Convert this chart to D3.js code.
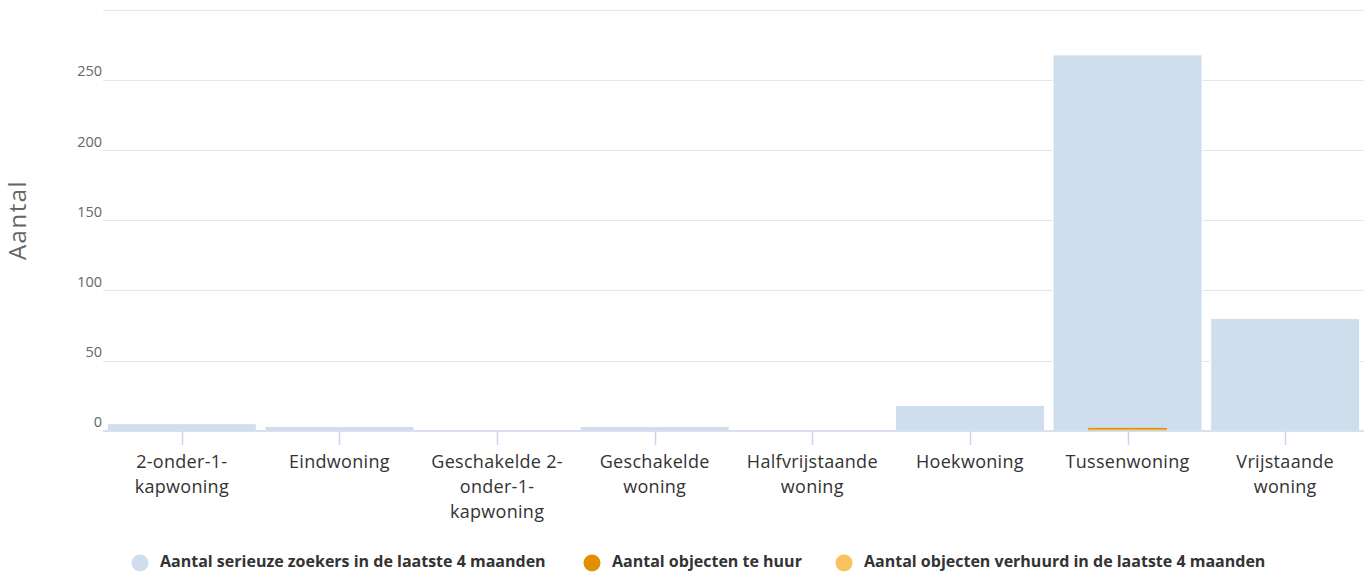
<!DOCTYPE html>
<html><head><meta charset="utf-8">
<script src="https://cdn.jsdelivr.net/npm/d3@7/dist/d3.min.js"></script>
<style>
html,body{margin:0;padding:0;background:#fff;}
svg{display:block;font-family:"Open Sans",Lato,sans-serif;}
</style></head>
<body><svg id="c" width="1372" height="576"></svg>
<script>
const categories = ["2-onder-1-kapwoning","Eindwoning","Geschakelde 2-onder-1-kapwoning","Geschakelde woning","Halfvrijstaande woning","Hoekwoning","Tussenwoning","Vrijstaande woning"];
const categoryLabelLines = [["2-onder-1-","kapwoning"],["Eindwoning"],["Geschakelde 2-","onder-1-","kapwoning"],["Geschakelde","woning"],["Halfvrijstaande","woning"],["Hoekwoning"],["Tussenwoning"],["Vrijstaande","woning"]];
const zoekers = [5, 3, 0, 3, 0, 18, 268, 80];
const teHuur = [0, 0, 0, 0, 0, 0, 2, 0];
const verhuurd = [0, 0, 0, 0, 0, 0, 1, 0];
const yTicks = [0, 50, 100, 150, 200, 250, 300];
const seriesNames = ["Aantal serieuze zoekers in de laatste 4 maanden","Aantal objecten te huur","Aantal objecten verhuurd in de laatste 4 maanden"];
const colors = ["#cfdeed","#e09000","#f8c25f"];

(function(){
const svg = d3.select("#c");
const pLeft = 103, pRight = 1364, pTop = 10, pBottom = 430.7;
const x = d3.scaleBand().domain(categories).range([pLeft, pRight]).paddingInner(0).paddingOuter(0);
const y = d3.scaleLinear().domain([0, 300]).range([pBottom, pTop]);

// gridlines
svg.append("g").selectAll("line").data(yTicks.filter(d=>d>0)).join("line")
  .attr("x1", pLeft).attr("x2", pRight)
  .attr("y1", d=>Math.round(y(d))+0.5).attr("y2", d=>Math.round(y(d))+0.5)
  .attr("stroke", "#e6e6e6").attr("stroke-width", 1);

// y labels
svg.append("g").selectAll("text").data(yTicks.filter(d=>d<300)).join("text")
  .attr("x", pLeft - 1).attr("y", d=>y(d) - 7.5)
  .attr("text-anchor","end").attr("dominant-baseline","middle")
  .attr("fill","#666").attr("font-size", 14.5).text(d=>d);

// y title
svg.append("text").attr("transform","translate(20,220) rotate(-90)")
  .attr("text-anchor","middle").attr("dominant-baseline","middle")
  .attr("fill","#666").attr("font-size", 24).attr("letter-spacing", 1.5).text("Aantal");

// bars
const bw = x.bandwidth();
function drawSeries(vals, color, pad, stroke){
  svg.append("g").selectAll("rect").data(vals).join("rect")
    .attr("x", (d,i)=>x(categories[i]) + pad)
    .attr("width", bw - 2*pad)
    .attr("y", d=>y(d))
    .attr("height", d=>Math.max(0, pBottom - y(d)))
    .attr("fill", color)
    .attr("stroke", stroke).attr("stroke-width", 1);
}
drawSeries(zoekers, colors[0], 4.3, "#fff");
drawSeries(teHuur, colors[1], 39.5, "none");
drawSeries(verhuurd, colors[2], 39.5, "none");

// x axis
svg.append("line").attr("x1", pLeft).attr("x2", pRight).attr("y1", 431).attr("y2", 431)
  .attr("stroke", "#ccd6eb").attr("stroke-width", 1.5);
svg.append("g").selectAll("line").data(categories).join("line")
  .attr("x1", d=>Math.round(x(d)+bw/2)+0.5).attr("x2", d=>Math.round(x(d)+bw/2)+0.5)
  .attr("y1", 431).attr("y2", 445).attr("stroke","#ccd6eb").attr("stroke-width",1.5);

const xl = svg.append("g").selectAll("text").data(categories).join("text")
  .attr("x", d=>x(d)+bw/2).attr("y", 468)
  .attr("text-anchor","middle").attr("fill","#333").attr("font-size", 18).attr("letter-spacing", 0.3);
xl.each(function(d,i){
  const t = d3.select(this);
  categoryLabelLines[i].forEach((ln, j)=>{
    t.append("tspan").attr("x", x(d)+bw/2).attr("dy", j===0?0:25).text(ln);
  });
});

// legend
const legendX = [140, 592, 844];
const lg = svg.append("g").selectAll("g").data(seriesNames).join("g")
  .attr("transform", (d,i)=>`translate(${legendX[i]},563)`);
lg.append("circle").attr("r", 8.5).attr("fill", (d,i)=>colors[i]);
lg.append("text").attr("x", 20).attr("dominant-baseline","middle")
  .attr("font-size", 16).attr("font-weight","bold").attr("fill","#333").text(d=>d);
})();
</script></body></html>
